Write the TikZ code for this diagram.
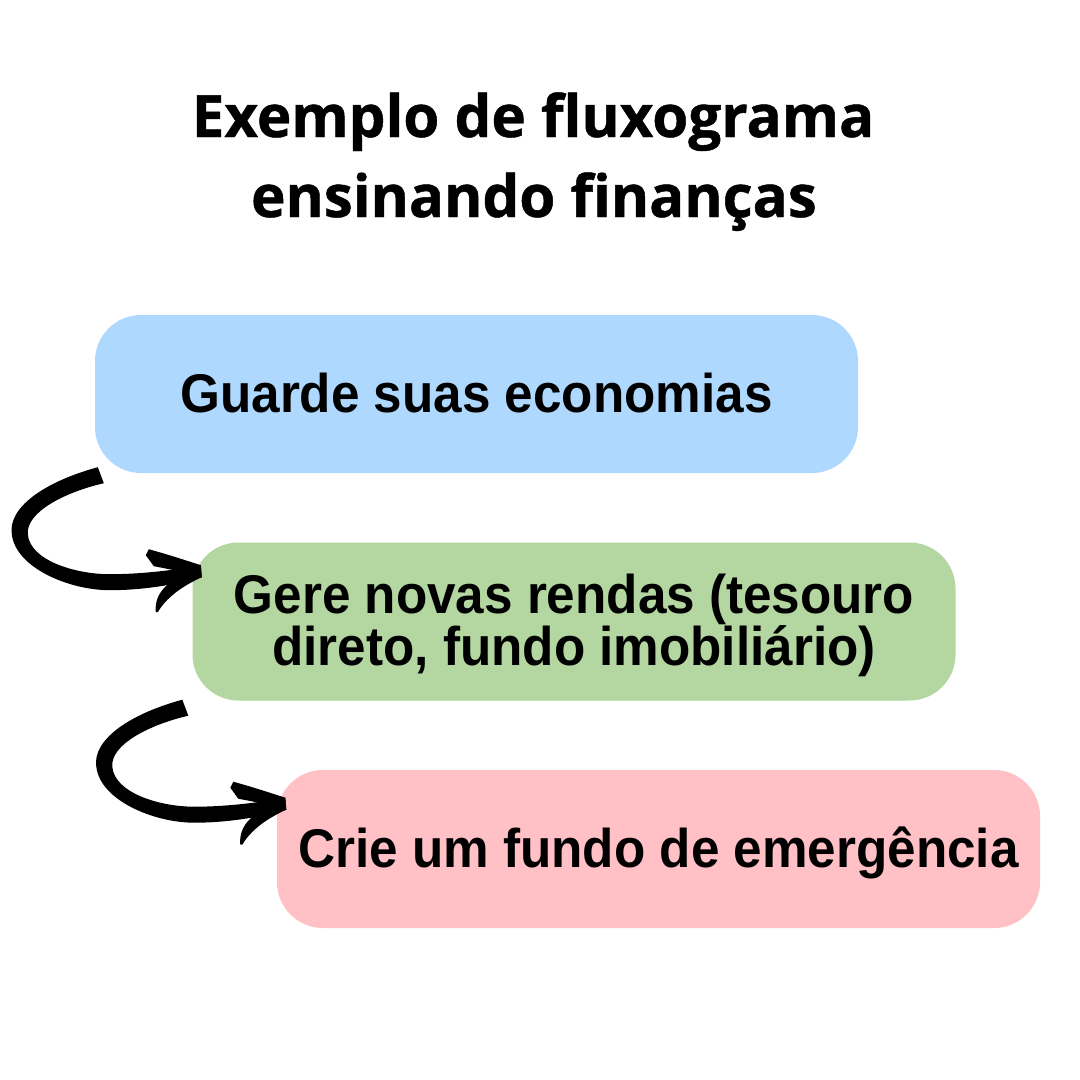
\documentclass[tikz,border=0pt]{standalone}
\usepackage{fontspec}
\newfontfamily\titlefont[FakeBold=0.8]{Open Sans}
\newfontfamily\boxfont[FakeStretch=0.94]{Liberation Sans}
\definecolor{bblue}{HTML}{AED8FD}
\definecolor{bgreen}{HTML}{B4D6A0}
\definecolor{bpink}{HTML}{FFC0C6}
\tikzset{
  stepbox/.style={rounded corners=46pt, minimum width=763pt, minimum height=158pt, inner sep=0pt},
  boxtext/.style={anchor=base, inner sep=0pt, font=\boxfont\bfseries\fontsize{54.5}{60}\selectfont},
  titletext/.style={anchor=base, inner sep=0pt, font=\titlefont\bfseries\fontsize{58.3}{80}\selectfont},
  swoosh/.pic={
    % shaft
    \fill[black] (-2,-3) .. controls (-57,12) and (-92,38) .. (-88,64)
      .. controls (-84,98) and (-30,120) .. (10,120)
      .. controls (50,120) and (85,112) .. (102,107)
      -- (101,95)
      .. controls (80,99) and (45,104) .. (10,104)
      .. controls (-25,104) and (-70,90) .. (-72,64)
      .. controls (-74,42) and (-35,22) .. (4,13) -- cycle;
    % upper barb
    \fill[black] (46,85) -- (49,79) .. controls (70,85) .. (101,95)
      -- (102,107) .. controls (80,101) .. (54,96) -- cycle;
    % lower barb
    \fill[black] (56,142) .. controls (54,122) and (70,108) .. (96,100)
      -- (102,107) .. controls (82,116) and (66,128) .. (58,142) -- cycle;
  }
}
\begin{document}
\begin{tikzpicture}[x=1pt,y=-1pt]
\useasboundingbox (0,0) rectangle (1080,1080);
\fill[white] (0,0) rectangle (1080,1080);

\node[titletext] (t1) at (533,137) {Exemplo de fluxograma};
\node[titletext] (t2) at (534,217) {ensinando finanças};

\node[stepbox, fill=bblue] (b1) at (476.5,394) {};
\node[stepbox, fill=bgreen] (b2) at (574,621.5) {};
\node[stepbox, fill=bpink] (b3) at (658.5,849) {};

\node[boxtext] (l1) at ([yshift=-18pt]b1.center) {Guarde suas economias};
\node[boxtext] (l2a) at ([yshift=8.5pt]b2.center) {Gere novas rendas (tesouro};
\node[boxtext] (l2b) at ([yshift=-43.5pt]b2.center) {direto, fundo imobiliário)};
\node[boxtext] (l3) at ([yshift=-18pt]b3.center) {Crie um fundo de emergência};

\coordinate (a1) at ([shift={(5,-3)}]b1.south west);
\coordinate (a2) at ([shift={(-8,2)}]b2.south west);
\pic at (a1) {swoosh};
\pic at (a2) {swoosh};
\end{tikzpicture}
\end{document}
